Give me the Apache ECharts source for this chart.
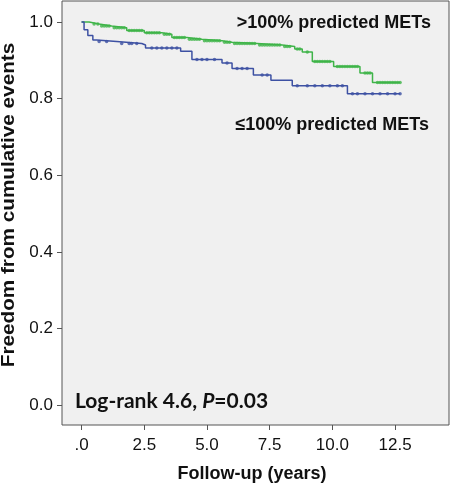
<!DOCTYPE html>
<html>
<head>
<meta charset="utf-8">
<script src="https://cdn.jsdelivr.net/npm/echarts@6/dist/echarts.min.js"></script>
<style>
html,body{margin:0;padding:0;background:#fff;}
#chart{width:455px;height:484px;}
</style>
</head>
<body>
<div id="chart"></div>
<script>
// ---- data ----
const xTicks = [0, 2.5, 5, 7.5, 10, 12.5];
const yTicks = [0, 0.2, 0.4, 0.6, 0.8, 1.0];

// >100% predicted METs : event times and survival after each step
const highTimes = [0, 0.3, 0.7, 1.2, 1.8, 2.5, 3.2, 3.6, 4.2, 4.8, 5.6, 6.0, 7.0, 8.0, 8.5, 8.8, 9.2, 10.05, 11.1, 11.6, 12.7];
const highSurv  = [1.0, 0.995, 0.99, 0.985, 0.978, 0.972, 0.968, 0.96, 0.955, 0.951, 0.947, 0.944, 0.94, 0.936, 0.93, 0.922, 0.897, 0.884, 0.867, 0.842, 0.842];
const highCensor = [0.5, 0.65, 0.8, 0.9, 1.0, 1.1, 1.3, 1.4, 1.5, 1.6, 1.7, 1.9, 2.0, 2.1, 2.2, 2.3, 2.4, 2.6, 2.7, 2.8, 2.9, 3.0, 3.1, 3.3, 3.4, 3.5, 3.7, 3.8, 3.9, 4.0, 4.1, 4.3, 4.4, 4.5, 4.6, 4.7, 4.9, 5.0, 5.1, 5.2, 5.3, 5.4, 5.5, 5.7, 5.8, 5.9, 6.1, 6.2, 6.3, 6.4, 6.5, 6.6, 6.7, 6.8, 6.9, 7.1, 7.2, 7.3, 7.4, 7.5, 7.6, 7.7, 7.8, 7.9, 8.1, 8.2, 8.3, 8.6, 8.7, 9.0, 9.3, 9.4, 9.5, 9.6, 9.7, 9.8, 9.9, 10.2, 10.3, 10.4, 10.5, 10.6, 10.7, 10.8, 10.9, 11.0, 11.3, 11.4, 11.5, 11.8, 11.9, 12.0, 12.1, 12.2, 12.3, 12.4, 12.5, 12.6, 12.7];

// <=100% predicted METs
const lowTimes = [0, 0.1, 0.25, 0.45, 0.6, 1.4, 2.4, 2.55, 3.95, 4.4, 5.6, 6.0, 6.85, 7.55, 8.4, 10.6, 12.7];
const lowSurv  = [1.0, 0.98, 0.965, 0.953, 0.949, 0.944, 0.94, 0.932, 0.924, 0.902, 0.893, 0.879, 0.862, 0.848, 0.834, 0.813, 0.813];
const lowCensor = [0.7, 1.0, 1.6, 1.9, 2.0, 2.2, 2.8, 3.0, 3.2, 3.4, 3.6, 3.8, 4.6, 4.8, 5.0, 5.3, 5.8, 6.2, 6.4, 6.6, 7.2, 7.4, 8.6, 9.0, 9.3, 9.6, 9.9, 10.2, 10.4, 10.8, 11.0, 11.3, 11.6, 11.9, 12.2, 12.5, 12.7];

const highLabel = '>100% predicted METs';
const lowLabel = '\u2264100% predicted METs';
const statLabel = ['Log-rank 4.6, ', 'P', '=0.03'];
const xTitle = 'Follow-up (years)';
const yTitle = 'Freedom from cumulative events';

// ---- helpers ----
function pairs(t, s) { return t.map((v, i) => [v, s[i]]); }
function survAt(t, s, time) {
  let v = s[0];
  for (let i = 0; i < t.length; i++) { if (t[i] <= time) v = s[i]; }
  return v;
}
function censorPts(t, s, c) { return c.map(x => [x, survAt(t, s, x)]); }

const GREEN = '#3fb449';
const BLUE = '#3d51a3';
const SANS = '"Liberation Sans", Arial, sans-serif';
const INK = '#111111';

function label(txt, x, y, align, extra) {
  return Object.assign({type: 'text', x: x, y: y, style: {text: txt, fontFamily: SANS, fontWeight: 'bold', fontSize: 18,
    fill: INK, align: align, verticalAlign: 'middle'}}, extra || {});
}

const chart = echarts.init(document.getElementById('chart'), null, {renderer: 'canvas'});
chart.setOption({
  animation: false,
  backgroundColor: '#ffffff',
  grid: {left: 62, top: 1, right: 6, bottom: 59, show: true, backgroundColor: '#f0f0f0', borderColor: '#555555', borderWidth: 1},
  xAxis: {
    type: 'value', min: -0.78, max: 14.65,
    axisLine: {show: false, onZero: false},
    splitLine: {show: false},
    axisTick: {show: true, customValues: xTicks, length: 5, lineStyle: {color: '#555555'}},
    axisLabel: {customValues: xTicks, margin: 12, color: INK, fontFamily: SANS, fontSize: 17,
      formatter: v => v === 0 ? '.0' : v.toFixed(1)}
  },
  yAxis: {
    type: 'value', min: -0.052, max: 1.055,
    axisLine: {show: false, onZero: false},
    splitLine: {show: false},
    axisTick: {show: true, customValues: yTicks, length: 5, lineStyle: {color: '#555555'}},
    axisLabel: {customValues: yTicks, margin: 9, color: INK, fontFamily: SANS, fontSize: 17,
      formatter: v => v.toFixed(1)}
  },
  series: [
    {type: 'line', step: 'end', data: pairs(highTimes, highSurv), showSymbol: false, lineStyle: {color: GREEN, width: 1.5}, z: 3},
    {type: 'line', step: 'end', data: pairs(lowTimes, lowSurv), showSymbol: false, lineStyle: {color: BLUE, width: 1.5}, z: 3},
    {type: 'scatter', data: censorPts(highTimes, highSurv, highCensor), symbol: 'circle', symbolSize: 3.5, itemStyle: {color: GREEN}, z: 4},
    {type: 'scatter', data: censorPts(lowTimes, lowSurv, lowCensor), symbol: 'circle', symbolSize: 3.5, itemStyle: {color: BLUE}, z: 4}
  ],
  graphic: [
    label(highLabel, 431, 23, 'right'),
    label(lowLabel, 429, 125, 'right'),
    {type: 'text', x: 75, y: 401, style: {
      text: '{a|' + statLabel[0] + '}{b|' + statLabel[1] + '}{a|' + statLabel[2] + '}',
      align: 'left', verticalAlign: 'middle',
      rich: {
        a: {fontFamily: 'Lato', fontWeight: 'bold', fontSize: 21, fill: INK},
        b: {fontFamily: 'Lato', fontWeight: 'bold', fontStyle: 'italic', fontSize: 21, fill: INK}
      }
    }},
    label(xTitle, 252, 474, 'center'),
    label(yTitle, 9, 205, 'center', {rotation: Math.PI / 2, scaleX: 1.15})
  ]
});
</script>
</body>
</html>
